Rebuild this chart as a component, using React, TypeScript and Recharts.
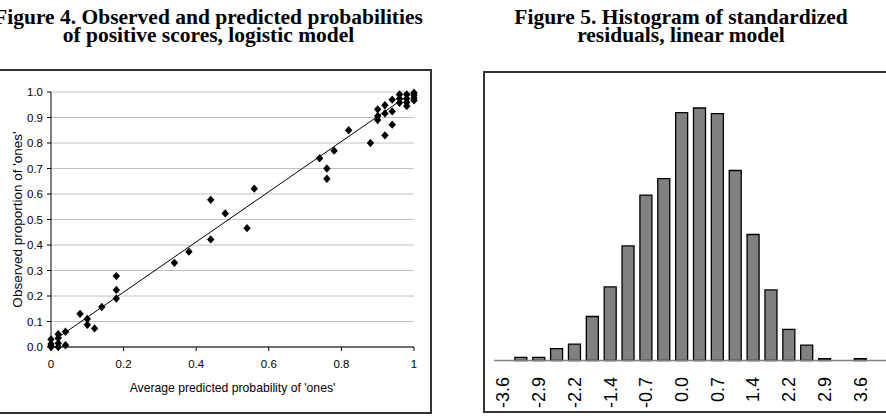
import React from 'react';
import {
  ScatterChart,
  Scatter,
  XAxis,
  YAxis,
  CartesianGrid,
  BarChart,
  Bar,
  Label,
} from 'recharts';

// Figure 4: average predicted probability (x) vs observed proportion of 'ones' (y)
const predictedProb = [
  0, 0, 0, 0,
  0.02, 0.02, 0.02, 0.02,
  0.04, 0.04,
  0.08, 0.1, 0.1, 0.12, 0.14,
  0.18, 0.18, 0.18,
  0.34, 0.38, 0.44, 0.44, 0.48, 0.54, 0.56,
  0.74, 0.76, 0.76, 0.78, 0.82, 0.88,
  0.9, 0.9, 0.9,
  0.92, 0.92, 0.92,
  0.94, 0.94, 0.94,
  0.96, 0.96, 0.96,
  0.98, 0.98, 0.98, 0.98,
  1, 1, 1, 1,
];
const observedProp = [
  0.03, 0.012, 0.004, 0,
  0.05, 0.035, 0.015, 0,
  0.06, 0.007,
  0.13, 0.11, 0.087, 0.073, 0.157,
  0.278, 0.224, 0.19,
  0.33, 0.374, 0.577, 0.422, 0.524, 0.466, 0.621,
  0.74, 0.7, 0.66, 0.77, 0.85, 0.8,
  0.932, 0.906, 0.89,
  0.948, 0.916, 0.83,
  0.97, 0.924, 0.872,
  0.99, 0.974, 0.958,
  0.99, 0.974, 0.96, 0.945,
  0.997, 0.987, 0.976, 0.967,
];
// fitted line end points
const fitX = [0.012, 0.99];
const fitY = [0.03, 0.993];

const xTicks = [0, 0.2, 0.4, 0.6, 0.8, 1];
const yTicks = [0, 0.1, 0.2, 0.3, 0.4, 0.5, 0.6, 0.7, 0.8, 0.9, 1];

// Figure 5: histogram of standardized residuals
const binLabels = [
  '-3.6', '-3.2', '-2.9', '-2.5', '-2.2', '-1.8', '-1.4', '-1.1', '-0.7', '-0.4', '0.0',
  '0.4', '0.7', '1.1', '1.4', '1.8', '2.2', '2.5', '2.9', '3.2', '3.6', '4.0',
];
const binFreq = [
  0, 1.2, 1.2, 4.7, 6.5, 17.4, 29.1, 45.3, 65.4, 71.9, 98.0,
  99.8, 97.6, 75.1, 49.8, 27.9, 12.3, 6.1, 0.7, 0, 0.7, 0,
];

const scatterPoints = predictedProb.map((x, i) => ({ x, y: observedProp[i] }));
const fitLine = fitX.map((x, i) => ({ x, y: fitY[i] }));
const histData = binLabels.map((bin, i) => ({ bin, freq: binFreq[i] }));

const SANS = '"Liberation Sans", Arial, sans-serif';
const SERIF = '"Liberation Serif", "Times New Roman", serif';

const Diamond = (props: any) => {
  const { cx, cy } = props;
  if (cx == null || cy == null) return <g />;
  return (
    <polygon
      points={`${cx},${cy - 4.2} ${cx + 3.7},${cy} ${cx},${cy + 4.2} ${cx - 3.7},${cy}`}
      fill="#000"
    />
  );
};

const NoShape = () => <g />;

const RotatedTick = (props: any) => {
  const { x, y, payload } = props;
  const ty = y + 16.5;
  return (
    <text
      x={x}
      y={ty}
      transform={`rotate(-90 ${x} ${ty})`}
      textAnchor="end"
      dy="0.36em"
      fontSize={18}
      fontFamily={SANS}
      fill="#000"
    >
      {payload.value}
    </text>
  );
};

const titleStyle: React.CSSProperties = {
  position: 'absolute',
  fontFamily: SERIF,
  fontWeight: 'bold',
  fontSize: 21.5,
  lineHeight: '18.4px',
  whiteSpace: 'nowrap',
  textAlign: 'center',
  color: '#000',
};

export default function App() {
  return (
    <div
      style={{
        position: 'absolute',
        left: 0,
        top: 0,
        width: 886,
        height: 420,
        overflow: 'hidden',
        background: '#fff',
      }}
    >
      {/* Titles */}
      <div style={{ ...titleStyle, left: -91.5, width: 600, top: 7.6 }}>
        Figure 4. Observed and predicted probabilities
        <br />
        of positive scores, logistic model
      </div>
      <div style={{ ...titleStyle, left: 381, width: 600, top: 7.6 }}>
        Figure 5. Histogram of standardized
        <br />
        residuals, linear model
      </div>

      {/* Frames */}
      <div
        style={{
          position: 'absolute',
          left: -10,
          top: 69,
          width: 442,
          height: 345,
          border: '2px solid #333',
          boxSizing: 'border-box',
        }}
      />
      <div
        style={{
          position: 'absolute',
          left: 483,
          top: 71,
          width: 420,
          height: 342,
          border: '2px solid #333',
          boxSizing: 'border-box',
        }}
      />

      {/* Figure 4 */}
      <div style={{ position: 'absolute', left: 0, top: 70 }}>
        <ScatterChart
          width={432}
          height={344}
          margin={{ top: 22, right: 18, bottom: 22, left: 0 }}
        >
          <CartesianGrid horizontal vertical={false} stroke="#c0c0c0" strokeWidth={1} />
          <XAxis
            type="number"
            dataKey="x"
            domain={[0, 1]}
            ticks={xTicks}
            height={45}
            tickSize={4}
            tickMargin={9}
            stroke="#000"
            tick={{ fontSize: 11.5, fontFamily: SANS, fill: '#000' }}
            axisLine={{ stroke: '#000' }}
            tickLine={{ stroke: '#000' }}
          >
            <Label
              value="Average predicted probability of 'ones'"
              position="insideBottom"
              offset={0}
              style={{ fontSize: 12.2, fontFamily: SANS, fill: '#000' }}
            />
          </XAxis>
          <YAxis
            type="number"
            dataKey="y"
            domain={[0, 1]}
            ticks={yTicks}
            width={51}
            tickSize={4}
            tickMargin={4}
            tickFormatter={(v: number) => v.toFixed(1)}
            tick={{ fontSize: 11.5, fontFamily: SANS, fill: '#000' }}
            axisLine={{ stroke: '#000' }}
            tickLine={{ stroke: '#000' }}
          >
            <Label
              value="Observed proportion of 'ones'"
              angle={-90}
              position="insideLeft"
              offset={17}
              style={{ fontSize: 13.5, fontFamily: SANS, fill: '#000', textAnchor: 'middle' }}
            />
          </YAxis>
          <Scatter
            data={fitLine}
            line={{ stroke: '#000', strokeWidth: 1 }}
            shape={NoShape}
            legendType="none"
            isAnimationActive={false}
          />
          <Scatter
            data={scatterPoints}
            shape={Diamond}
            fill="#000"
            isAnimationActive={false}
          />
        </ScatterChart>
      </div>

      {/* Figure 5 */}
      <div style={{ position: 'absolute', left: 494, top: 0 }}>
        <BarChart
          width={393}
          height={420}
          data={histData}
          margin={{ top: 107.5, right: 0, bottom: 0, left: 0 }}
          barSize={12}
        >
          <XAxis
            dataKey="bin"
            interval={1}
            height={59.5}
            tickLine={false}
            tickSize={0}
            tickMargin={0}
            axisLine={{ stroke: '#808080', strokeWidth: 1.5 }}
            tick={<RotatedTick />}
          />
          <YAxis hide domain={[0, 100]} />
          <Bar
            dataKey="freq"
            fill="#808080"
            stroke="#000"
            strokeWidth={1.3}
            isAnimationActive={false}
          />
        </BarChart>
      </div>
    </div>
  );
}
